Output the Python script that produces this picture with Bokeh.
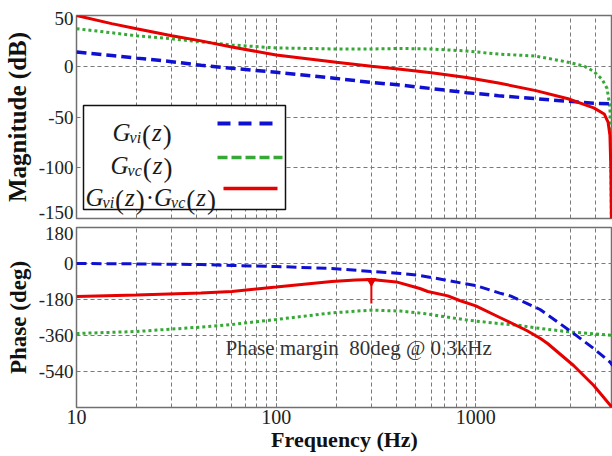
from math import log10
from bokeh.plotting import figure
from bokeh.layouts import column
from bokeh.models import FixedTicker, NumeralTickFormatter, Range1d
from bokeh.core.properties import value
from bokeh.embed import file_html
from bokeh.resources import INLINE

# ---------------- data ----------------
f_vi_mag = [10, 15, 20, 30, 42, 60, 100, 150, 200, 300, 420, 600, 900, 1300, 2000, 2900, 3900, 4850]
vi_mag = [14, 10.5, 8, 4.5, 1, -2, -6, -9.5, -12, -16, -18.5, -22, -26, -29, -32, -34.5, -36.5, -37]

f_vc_mag = [10, 15, 20, 30, 42, 60, 100, 150, 200, 300, 420, 600, 900, 1300, 2000, 2900, 3500, 3900,
            4300, 4550, 4700, 4750, 4780]
vc_mag = [37, 33, 30, 27, 24, 21, 18, 17.5, 17, 17, 17.5, 17, 15, 12, 10, 4, 0, -5,
          -13, -22, -40, -80, -150]

f_loop_mag = [10, 15, 20, 30, 42, 60, 100, 150, 200, 300, 420, 600, 900, 1300, 2000, 2900, 3900,
              4400, 4600, 4700, 4750, 4780]
loop_mag = [50, 42, 37, 30, 25, 19, 11, 7, 4, 0, -3, -6.5, -11, -16.5, -24, -32, -41,
            -47, -55, -68, -100, -150]

f_vi_ph = [10, 20, 42, 60, 100, 190, 300, 420, 525, 700, 840, 1000, 1320, 1500, 2100, 3000, 3900, 4730, 4850]
vi_ph = [0, -2, -5, -10, -15, -25, -40, -50, -60, -82, -97, -110, -148, -163, -230, -340, -425, -495, -510]

f_vc_ph = [10, 20, 42, 60, 100, 190, 300, 420, 550, 720, 940, 1300, 1670, 2000, 3000, 4000, 4850]
vc_ph = [-350, -340, -318, -305, -280, -247, -233, -238, -250, -268, -285, -300, -310, -322, -343, -352, -360]

f_loop_ph = [10, 20, 42, 60, 100, 190, 250, 300, 400, 525, 575, 725, 830, 1000, 1320, 1800, 2110,
             2290, 3090, 3900, 4730, 4850]
loop_ph = [-165, -157, -147, -140, -118, -90, -82, -80, -92, -125, -140, -162, -185, -212, -270, -335, -375,
           -400, -510, -610, -710, -725]

pm_freq = [300]
pm_phase = [-80]
pm_stem_end = [-200]

mag_grid = [-150, -100, -50, 0, 50]
mag_labels = {-144: "-150", -100: "-100", -50: "-50", 0: "0", 47: "50"}
phase_grid = [-720, -540, -360, -180, 0, 180]
phase_labels = {-540: "-540", -360: "-360", -180: "-180", 0: "0", 150: "180"}
legend_names = ["vi", "vc"]
annotation = "Phase margin\u00a0 80deg @ 0.3kHz"

# ---------------- layout constants ----------------
X0, X1 = 10, 4842
LX, FW = 76, 536          # frame left / width (px)
TY, FH = 15, 203          # top frame top / height
BY, BH = 227, 180         # bottom frame top / height

SERIF = "Liberation Serif"
BLUE = "#1010d0"
GREEN = "#35a835"
RED = "#e60000"
GRID = "#7a7a7a"


def px2x(px):
    return 10 ** (log10(X0) + (px - LX) / FW * (log10(X1) - log10(X0)))


def top_y(py):
    return 50 - (py - TY) / FH * 200


def bot_y(py):
    return 180 - (py - BY) / BH * 900


xr = Range1d(X0, X1)


def no_ticks(ax):
    ax.major_tick_out = 0
    ax.major_tick_in = 0
    ax.minor_tick_out = 0
    ax.minor_tick_in = 0
    ax.major_tick_line_color = None
    ax.minor_tick_line_color = None
    ax.axis_line_color = None


def style(p, grid_ticks, labels, label, label_size):
    p.outline_line_color = "#707070"
    p.outline_line_width = 1.5
    p.background_fill_color = "white"
    p.border_fill_color = "white"
    for g in (p.xgrid, p.ygrid):
        g.grid_line_color = GRID
        g.grid_line_dash = "4 3"
        g.grid_line_width = 1
    p.xgrid.minor_grid_line_color = GRID
    p.xgrid.minor_grid_line_dash = "4 3"
    p.xgrid.minor_grid_line_width = 1
    p.ygrid.ticker = FixedTicker(ticks=grid_ticks)
    ax = p.yaxis[0]
    ax.ticker = FixedTicker(ticks=sorted(labels))
    ax.major_label_overrides = {k: v for k, v in labels.items()}
    ax.axis_label = label
    ax.axis_label_text_font = SERIF
    ax.axis_label_text_font_style = "bold"
    ax.axis_label_text_font_size = label_size
    ax.axis_label_text_color = "#111111"
    ax.axis_label_standoff = 5
    ax.major_label_text_font = SERIF
    ax.major_label_text_font_size = "19px"
    ax.major_label_text_color = "#222222"
    ax.major_label_standoff = 3
    no_ticks(ax)


top = figure(width=612, height=222, x_axis_type="log", x_range=xr, y_range=Range1d(-150, 50),
             output_backend="svg", toolbar_location=None,
             min_border_left=LX, min_border_right=0, min_border_top=TY, min_border_bottom=4)
style(top, mag_grid, mag_labels, "Magnitude (dB)", "25px")
top.xaxis.visible = False

bot = figure(width=612, height=234, x_axis_type="log", x_range=xr, y_range=Range1d(-720, 180),
             output_backend="svg", toolbar_location=None,
             min_border_left=LX, min_border_right=0, min_border_top=5, min_border_bottom=49)
style(bot, phase_grid, phase_labels, "Phase (deg)", "23px")
xa = bot.xaxis[0]
xa.formatter = NumeralTickFormatter(format="0")
xa.axis_label = "Frequency (Hz)"
xa.axis_label_text_font = SERIF
xa.axis_label_text_font_style = "bold"
xa.axis_label_text_font_size = "22px"
xa.axis_label_text_color = "#111111"
xa.axis_label_standoff = 0
xa.major_label_text_font = SERIF
xa.major_label_text_font_size = "20px"
xa.major_label_text_color = "#222222"
xa.major_label_standoff = 2
no_ticks(xa)

# ---------------- curves ----------------
top.line(f_vc_mag, vc_mag, line_color=GREEN, line_width=3, line_dash="3 3")
top.line(f_vi_mag, vi_mag, line_color=BLUE, line_width=3.5, line_dash="10 5")
top.line(f_loop_mag, loop_mag, line_color=RED, line_width=3)

bot.line(f_vc_ph, vc_ph, line_color=GREEN, line_width=3, line_dash="3 3")
bot.line(f_vi_ph, vi_ph, line_color=BLUE, line_width=3, line_dash="10 5")
bot.line(f_loop_ph, loop_ph, line_color=RED, line_width=3)
bot.segment(x0=pm_freq, y0=pm_phase, x1=pm_freq, y1=pm_stem_end, line_color=RED, line_width=2)
bot.scatter(pm_freq, [v - 8 for v in pm_phase], marker="inverted_triangle", size=9,
            fill_color=RED, line_color=RED)
bot.text(x=[px2x(225)], y=[bot_y(347)], text=[annotation],
         text_font=value(SERIF), text_font_size=value("21px"), text_color="#333333",
         text_align="left", text_baseline="middle")

# ---------------- legend (drawn by hand) ----------------
top.quad(left=[px2x(83)], right=[px2x(285)], top=[top_y(105)], bottom=[top_y(209)],
         fill_color="white", line_color="#111111", line_width=1.5)
top.segment(x0=[px2x(217)], y0=[top_y(123)], x1=[px2x(280)], y1=[top_y(123)],
            line_color=BLUE, line_width=4, line_dash="13 8")
top.segment(x0=[px2x(217)], y0=[top_y(157)], x1=[px2x(282)], y1=[top_y(157)],
            line_color=GREEN, line_width=3.5, line_dash="10 4")
top.segment(x0=[px2x(223)], y0=[top_y(188)], x1=[px2x(277)], y1=[top_y(188)],
            line_color=RED, line_width=3.5)

BIG, SUB, PAR = 25, 16, 27
W_IT = {"G": 0.722, "z": 0.389, "v": 0.444, "i": 0.278, "c": 0.444}
W_RM = {"(": 0.333, ")": 0.333, "\u00b7": 0.25}
groups = {"big_it": ([], [], []), "sub": ([], [], []), "par": ([], [], []), "rm": ([], [], [])}


def put(kind, txt, px, py):
    xs, ys, ts = groups[kind]
    xs.append(px2x(px))
    ys.append(top_y(py))
    ts.append(txt)


def g_term(name, px, base):
    put("big_it", "G", px, base)
    px += W_IT["G"] * BIG - 1
    put("sub", name, px, base + 5)
    px += sum(W_IT[c] for c in name) * SUB + 1
    put("par", "(", px, base + 2)
    px += W_RM["("] * PAR
    put("big_it", "z", px + 1, base)
    px += W_IT["z"] * BIG + 2
    put("par", ")", px, base + 2)
    px += W_RM[")"] * PAR
    return px


g_term(legend_names[0], 112, 132)
g_term(legend_names[1], 110, 165)
nx = g_term(legend_names[0], 85, 197)
put("rm", "\u00b7", nx + 1, 197)
g_term(legend_names[1], nx + 1 + W_RM["\u00b7"] * BIG + 2, 197)

for kind, (size, fstyle) in {"big_it": (BIG, "italic"), "sub": (SUB, "italic"),
                             "par": (PAR, "normal"), "rm": (BIG, "normal")}.items():
    xs, ys, ts = groups[kind]
    top.text(x=xs, y=ys, text=ts, text_font=value(SERIF), text_font_size=value(f"{size}px"),
             text_font_style=fstyle, text_color="#1a1a1a", text_align="left",
             text_baseline="alphabetic")

layout = column(top, bot, spacing=0)
open("out.html", "w").write(file_html(layout, INLINE))
